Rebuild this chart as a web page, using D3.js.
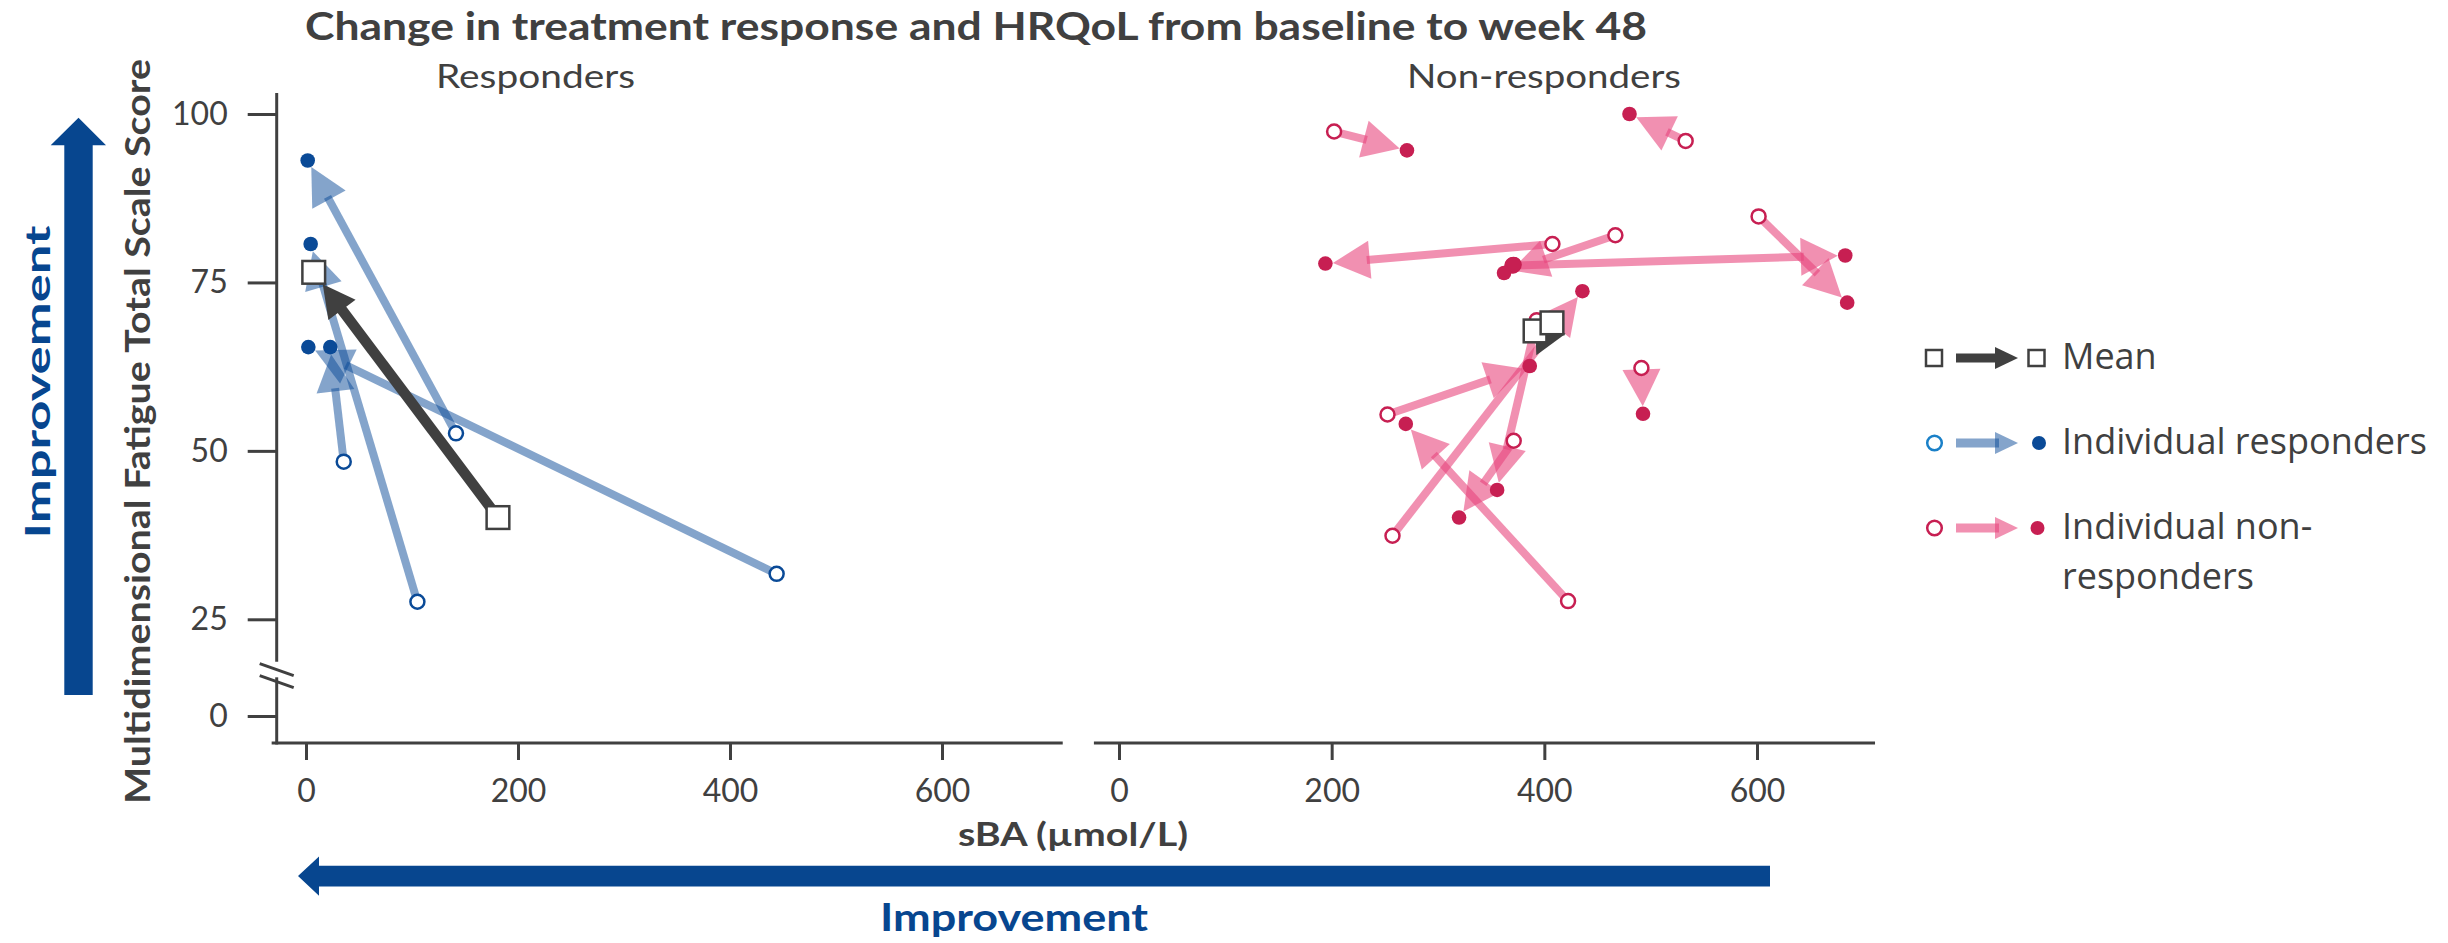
<!DOCTYPE html>
<html>
<head>
<meta charset="utf-8">
<script src="https://cdnjs.cloudflare.com/ajax/libs/d3/7.8.5/d3.min.js"></script>
<style>
  body { margin: 0; background: #fff; }
  text { fill: #404040; }
</style>
</head>
<body>
<div id="chart"></div>
<script>
// Axis ticks
const yTicks = [0, 25, 50, 75, 100];
const xTicks = [0, 200, 400, 600];

// Responders: baseline (open) -> week 48 (filled)
const respBaseSBA = [141.5, 105.1, 35.6, 444.0];
const respBaseMFI = [52.6, 27.6, 48.4, 31.75];
const respW48SBA = [1.6, 4.4, 22.9, 2.2];
const respW48MFI = [93.1, 80.7, 65.4, 65.4];
// mean squares, and the mean arrow (start -> end)
const respMeanSBA = [181.1, 7.3];
const respMeanMFI = [40.1, 76.5];
const respMeanArrowSBA = [181.1, 7.3];
const respMeanArrowMFI = [40.1, 76.5];

// Non-responders: baseline (open) -> week 48 (filled)
const nonBaseSBA = [202.3, 532.9, 407.6, 466.8, 370.0, 601.5, 491.3, 257.2, 252.5, 371.2, 392.9, 422.3, 371.0];
const nonBaseMFI = [97.4, 96.0, 80.7, 82.0, 77.5, 84.8, 62.3, 37.4, 55.4, 51.5, 69.4, 27.7, 77.6];
const nonW48SBA = [270.8, 480.1, 194.1, 362.1, 683.0, 684.8, 492.8, 435.8, 386.3, 319.8, 355.6, 269.7, 371.5];
const nonW48MFI = [94.6, 100.0, 77.8, 76.4, 79.0, 72.0, 55.5, 73.7, 62.6, 40.1, 44.2, 54.0, 77.7];
const nonMeanSBA = [391.3, 407.2];
const nonMeanMFI = [67.8, 69.0];
const nonMeanArrowSBA = [407.2, 386.3];
const nonMeanArrowMFI = [69.0, 62.2];

const legendLabels = ["Mean", "Individual responders", "Individual non-|responders"];

const W = 2448, H = 943;
const ink = "#404040";
const navy = "#07468f";
const blue = "#0a4a97", pink = "#c71f52", pinkLine = "#e8467d";

const svg = d3.select("#chart").append("svg")
    .attr("width", W).attr("height", H)
    .attr("viewBox", [0, 0, W, H]);

// Scales: broken y axis (0 sits below the break)
const y = d3.scaleLinear().domain([0, 25, 100]).range([716, 619.3, 114]);
const xLeft = d3.scaleLinear().domain([0, 600]).range([306, 942]);
const xRight = d3.scaleLinear().domain([0, 600]).range([1119, 1757]);
const axisX = 276.7, axisY = 743;

// Draws a shaft plus a closed triangular head ending at the marker edge.
function drawArrow(g, x1, y1, x2, y2, o) {
    const dx = x2 - x1, dy = y2 - y1, len = Math.hypot(dx, dy);
    if (len < 2) return;
    const ux = dx / len, uy = dy / len, nx = -uy, ny = ux;
    const tx = x2 - ux * o.gap, ty = y2 - uy * o.gap;
    const bx = tx - ux * o.headLen, by = ty - uy * o.headLen;
    const hw = o.headWidth / 2;
    g.append("line")
        .attr("x1", x1).attr("y1", y1)
        .attr("x2", bx + ux * o.overlap).attr("y2", by + uy * o.overlap)
        .attr("stroke", o.color).attr("stroke-width", o.width)
        .attr("stroke-opacity", o.opacity);
    g.append("path")
        .attr("d", `M${tx},${ty}L${bx + nx * hw},${by + ny * hw}L${bx - nx * hw},${by - ny * hw}Z`)
        .attr("fill", o.color).attr("fill-opacity", o.opacity);
}

const indivOpts = (color, opacity) => ({gap: 7.5, headLen: 37, headWidth: 38, width: 8, overlap: 3, color, opacity});
const meanOpts = {gap: 15, headLen: 32, headWidth: 34, width: 10.5, overlap: 3, color: ink, opacity: 1};

function drawPanel(x, p) {
    const g = svg.append("g");
    p.baseX.forEach((d, i) => drawArrow(g, x(d), y(p.baseY[i]), x(p.w48X[i]), y(p.w48Y[i]),
        indivOpts(p.lineColor, p.lineOpacity)));
    drawArrow(g, x(p.arrowX[0]), y(p.arrowY[0]), x(p.arrowX[1]), y(p.arrowY[1]), meanOpts);
    g.selectAll(".base").data(p.baseX).join("circle")
        .attr("cx", d => x(d)).attr("cy", (d, i) => y(p.baseY[i])).attr("r", 7)
        .attr("fill", "#fff").attr("stroke", p.dotColor).attr("stroke-width", 2.5);
    g.selectAll(".w48").data(p.w48X).join("circle")
        .attr("cx", d => x(d)).attr("cy", (d, i) => y(p.w48Y[i])).attr("r", 7.3)
        .attr("fill", p.dotColor);
    const s = 22.7;
    p.meanX.forEach((d, i) => g.append("rect")
        .attr("x", x(d) - s / 2).attr("y", y(p.meanY[i]) - s / 2)
        .attr("width", s).attr("height", s)
        .attr("fill", "#fff").attr("stroke", ink).attr("stroke-width", 2.5));
}

// Axes
function styleAxis(g) {
    g.select(".domain").remove();
    g.selectAll(".tick line").attr("stroke", ink).attr("stroke-width", 3);
    g.selectAll(".tick text").attr("fill", ink)
        .style("font-family", "Lato, sans-serif").style("font-size", "32px");
}

svg.append("g").attr("transform", `translate(${axisX},0)`)
    .call(d3.axisLeft(y).tickValues(yTicks).tickSize(29).tickPadding(20))
    .call(styleAxis);

[[xLeft, [-32.4, 713.9]], [xRight, [-23.6, 711]]].forEach(([x, ext]) => {
    svg.append("g").attr("transform", `translate(0,${axisY})`)
        .call(d3.axisBottom(x).tickValues(xTicks).tickSize(17).tickPadding(19))
        .call(styleAxis)
        .append("line")
        .attr("x1", x(ext[0])).attr("x2", x(ext[1]))
        .attr("stroke", ink).attr("stroke-width", 3);
});

// y axis line with a break between 10 and 14
const axisLine = (a, b) => svg.append("line").attr("x1", axisX).attr("x2", axisX)
    .attr("y1", a).attr("y2", b).attr("stroke", ink).attr("stroke-width", 3);
axisLine(y(103.1), y(14));
axisLine(y(10), axisY + 1.5);
[0, 12].forEach(off => svg.append("line")
    .attr("x1", axisX - 17).attr("y1", y(12) - 6 + off)
    .attr("x2", axisX + 17).attr("y2", y(12) + 6 + off)
    .attr("stroke", ink).attr("stroke-width", 3));

drawPanel(xLeft, {baseX: respBaseSBA, baseY: respBaseMFI, w48X: respW48SBA, w48Y: respW48MFI,
    meanX: respMeanSBA, meanY: respMeanMFI, arrowX: respMeanArrowSBA, arrowY: respMeanArrowMFI,
    dotColor: blue, lineColor: blue, lineOpacity: 0.5});
drawPanel(xRight, {baseX: nonBaseSBA, baseY: nonBaseMFI, w48X: nonW48SBA, w48Y: nonW48MFI,
    meanX: nonMeanSBA, meanY: nonMeanMFI, arrowX: nonMeanArrowSBA, arrowY: nonMeanArrowMFI,
    dotColor: pink, lineColor: pinkLine, lineOpacity: 0.6});

// Titles
const addText = (txt, x, yy, size, weight, len, anchor = "start") => svg.append("text")
    .attr("x", x).attr("y", yy)
    .attr("text-anchor", anchor)
    .attr("textLength", len).attr("lengthAdjust", "spacingAndGlyphs")
    .style("font-family", "Lato, sans-serif").style("font-size", size + "px")
    .style("font-weight", weight).text(txt);

addText("Change in treatment response and HRQoL from baseline to week 48", 305, 40, 39, 700, 1342);
addText("Responders", 436, 88, 33, 400, 199);
addText("Non-responders", 1407, 88, 33, 400, 274);
addText("sBA (µmol/L)", 1073, 846, 32, 700, 230, "middle");
addText("Improvement", 1014, 931, 38, 700, 268, "middle").style("fill", navy);

svg.append("text")
    .attr("transform", "translate(150,431.5) rotate(-90)")
    .attr("text-anchor", "middle")
    .attr("textLength", 745).attr("lengthAdjust", "spacingAndGlyphs")
    .style("font-family", "Lato, sans-serif").style("font-size", "34px").style("font-weight", 700)
    .text("Multidimensional Fatigue Total Scale Score");

svg.append("text")
    .attr("transform", "translate(50,382) rotate(-90)")
    .attr("text-anchor", "middle")
    .attr("textLength", 313).attr("lengthAdjust", "spacingAndGlyphs")
    .style("font-family", "Lato, sans-serif").style("font-size", "34px").style("font-weight", 700)
    .style("fill", navy)
    .text("Improvement");

// Improvement arrows
svg.append("path")
    .attr("d", "M64.3,695V145.3H50.7L78.5,117.7L106,145.3H92.7V695Z")
    .attr("fill", navy);
svg.append("path")
    .attr("d", "M1770,865.7H319V856.4L298,876.1L319,895.8V886.5H1770Z")
    .attr("fill", navy);

// Legend
const legendY = [358, 443, 528];
const lg = svg.append("g");
lg.append("rect").attr("x", 1926).attr("y", legendY[0] - 8).attr("width", 16).attr("height", 16)
    .attr("fill", "#fff").attr("stroke", ink).attr("stroke-width", 2.5);
lg.append("rect").attr("x", 2028.5).attr("y", legendY[0] - 8).attr("width", 16).attr("height", 16)
    .attr("fill", "#fff").attr("stroke", ink).attr("stroke-width", 2.5);
const legOpts = (color, opacity) => ({gap: 0, headLen: 23, headWidth: 22, width: 9, overlap: 4, color, opacity});
drawArrow(lg, 1956, legendY[0], 2018, legendY[0], legOpts(ink, 1));
drawArrow(lg, 1956, legendY[1], 2018, legendY[1], legOpts(blue, 0.5));
drawArrow(lg, 1956, legendY[2], 2018, legendY[2], legOpts(pinkLine, 0.6));
lg.append("circle").attr("cx", 1934.5).attr("cy", legendY[1]).attr("r", 7.3)
    .attr("fill", "#fff").attr("stroke", "#1a80c8").attr("stroke-width", 2.5);
lg.append("circle").attr("cx", 2039).attr("cy", legendY[1]).attr("r", 7).attr("fill", blue);
lg.append("circle").attr("cx", 1934.5).attr("cy", legendY[2]).attr("r", 7.3)
    .attr("fill", "#fff").attr("stroke", pink).attr("stroke-width", 2.5);
lg.append("circle").attr("cx", 2037.5).attr("cy", legendY[2]).attr("r", 7).attr("fill", pink);

legendLabels.forEach((lab, i) => {
    const t = lg.append("text").attr("x", 2062).attr("y", legendY[i] + 11)
        .style("font-family", "'Open Sans', sans-serif").style("font-size", "36px");
    lab.split("|").forEach((part, j) => t.append("tspan")
        .attr("x", 2062).attr("dy", j ? 50 : 0).text(part));
});
</script>
</body>
</html>
